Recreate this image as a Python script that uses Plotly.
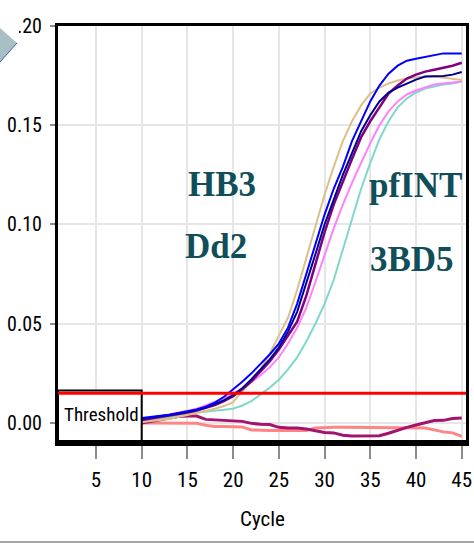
import plotly.graph_objects as go

cycles = list(range(10, 46))

blue = [0.0025,0.0030,0.0035,0.0042,0.0050,0.0058,0.0068,0.0082,0.0102,0.0132,0.0168,0.0208,0.0250,0.0295,0.0345,0.0400,0.0480,0.0600,0.0750,0.0910,0.1050,0.1180,0.1290,0.1420,0.1520,0.1620,0.1700,0.1760,0.1800,0.1825,0.1835,0.1845,0.1855,0.1862,0.1862,0.1862]
tan = [0.0005,0.0010,0.0015,0.0020,0.0030,0.0040,0.0050,0.0060,0.0072,0.0085,0.0105,0.0160,0.0210,0.0270,0.0350,0.0440,0.0530,0.0670,0.0830,0.1000,0.1150,0.1290,0.1420,0.1520,0.1600,0.1660,0.1690,0.1710,0.1725,0.1735,0.1740,0.1745,0.1745,0.1740,0.1735,0.1728]
navy = [0.0020,0.0028,0.0034,0.0040,0.0047,0.0055,0.0065,0.0078,0.0095,0.0115,0.0140,0.0175,0.0220,0.0270,0.0320,0.0380,0.0460,0.0560,0.0700,0.0850,0.1000,0.1130,0.1250,0.1360,0.1470,0.1550,0.1620,0.1665,0.1690,0.1710,0.1730,0.1745,0.1748,0.1748,0.1755,0.1768]
purple = [0.0015,0.0022,0.0030,0.0037,0.0044,0.0052,0.0062,0.0075,0.0090,0.0110,0.0135,0.0170,0.0210,0.0260,0.0310,0.0370,0.0440,0.0510,0.0640,0.0800,0.0960,0.1100,0.1220,0.1330,0.1440,0.1520,0.1590,0.1660,0.1700,0.1735,0.1755,0.1770,0.1780,0.1790,0.1800,0.1815]
violet = [0.0015,0.0025,0.0035,0.0043,0.0052,0.0060,0.0072,0.0088,0.0105,0.0125,0.0148,0.0175,0.0205,0.0240,0.0280,0.0330,0.0400,0.0480,0.0580,0.0710,0.0850,0.0980,0.1100,0.1210,0.1310,0.1410,0.1500,0.1570,0.1620,0.1655,0.1675,0.1690,0.1705,0.1710,0.1715,0.1720]
turquoise = [0.0005,0.0012,0.0020,0.0028,0.0035,0.0048,0.0052,0.0058,0.0062,0.0066,0.0072,0.0088,0.0110,0.0145,0.0178,0.0218,0.0270,0.0330,0.0410,0.0500,0.0600,0.0720,0.0870,0.1030,0.1180,0.1310,0.1430,0.1520,0.1590,0.1635,0.1665,0.1685,0.1695,0.1705,0.1710,0.1720]
neg_magenta = [0.0,0.0008,0.0015,0.0025,0.0033,0.0035,0.0035,0.0018,0.0015,0.0015,0.0012,0.0008,-0.0002,-0.0007,-0.0008,-0.0022,-0.0025,-0.0025,-0.0030,-0.0038,-0.0048,-0.0050,-0.0062,-0.0066,-0.0066,-0.0066,-0.0064,-0.0052,-0.0036,-0.0022,-0.0010,0.0002,0.0012,0.0013,0.0022,0.0025]
neg_salmon = [0.0,0.0,0.0,0.0,0.0,0.0,-0.0002,-0.0012,-0.0018,-0.0018,-0.0018,-0.0020,-0.0035,-0.0038,-0.0038,-0.0038,-0.0038,-0.0038,-0.0038,-0.0025,-0.0022,-0.0022,-0.0022,-0.0022,-0.0022,-0.0022,-0.0022,-0.0022,-0.0022,-0.0022,-0.0022,-0.0025,-0.0035,-0.0045,-0.0050,-0.0068]

threshold = 0.015
x_ticks = [5, 10, 15, 20, 25, 30, 35, 40, 45]
y_ticks = [0.00, 0.05, 0.10, 0.15, 0.20]
x_range = [0.845, 45.47]
y_range = [-0.0101, 0.2]
sample_labels = ["HB3", "Dd2", "pfINT", "3BD5"]

NARROW = "Liberation Sans Narrow, Arial Narrow, Roboto Condensed, DejaVu Sans Condensed, sans-serif"
SERIF = "Liberation Serif, Times New Roman, serif"

fig = go.Figure()
series = [
    (neg_salmon, "#ff8585", 3),
    (neg_magenta, "#a3146f", 3),
    (turquoise, "#80d8ca", 2),
    (violet, "#ff80ff", 2),
    (tan, "#dcc08a", 2),
    (purple, "#800080", 2.5),
    (navy, "#00008f", 2),
    (blue, "#0000ff", 2),
]
for vals, col, w in series:
    fig.add_trace(go.Scatter(x=cycles, y=vals, mode="lines",
                             line=dict(color=col, width=w), showlegend=False,
                             hoverinfo="skip"))

W, H = 474, 543
L, R, T, B = 58, 8, 26, 100
pw, ph = W - L - R, H - T - B

def px2paper(px, py):
    return (px - L) / pw, (H - B - py) / ph

shapes = []
shapes.append(dict(type="rect", xref="x", yref="y", x0=x_range[0], x1=10,
                   y0=y_range[0], y1=0.0163, fillcolor="white",
                   line=dict(color="black", width=2), layer="above"))
shapes.append(dict(type="line", xref="paper", yref="y", x0=0, x1=1,
                   y0=threshold, y1=threshold,
                   line=dict(color="#ff0000", width=3), layer="above"))
shapes.append(dict(type="line", xref="paper", yref="paper", x0=-0.004, x1=1.004,
                   y0=0, y1=0, line=dict(color="black", width=6), layer="above"))
a = px2paper(0, 0); b = px2paper(19, 40)
shapes.append(dict(type="rect", xref="paper", yref="paper", x0=a[0], x1=b[0],
                   y0=b[1], y1=a[1], fillcolor="white", line=dict(width=0),
                   layer="above"))
p1 = px2paper(0, 28); p2 = px2paper(17, 43); p3 = px2paper(0, 62)
shapes.append(dict(type="path", xref="paper", yref="paper",
                   path=f"M {p1[0]} {p1[1]} L {p2[0]} {p2[1]} L {p3[0]} {p3[1]} Z",
                   fillcolor="#a9bfc3", line=dict(width=0), layer="above"))
shapes.append(dict(type="line", xref="paper", yref="paper", x0=p2[0], y0=p2[1],
                   x1=p3[0], y1=p3[1], line=dict(color="#3b5fc0", width=1),
                   layer="above"))
g0 = px2paper(0, 542); g1 = px2paper(474, 542)
shapes.append(dict(type="line", xref="paper", yref="paper", x0=g0[0], x1=g1[0],
                   y0=g0[1], y1=g1[1], line=dict(color="#a6a6a6", width=2),
                   layer="above"))

annotations = [
    dict(x=5.55, y=0.0045, xref="x", yref="y", text="Threshold", showarrow=False,
         xanchor="center", yanchor="middle",
         font=dict(family=NARROW, size=19, color="black")),
    dict(x=0.5, y=(H - B - 519) / ph, xref="paper", yref="paper", text="Cycle",
         showarrow=False, xanchor="center", yanchor="middle",
         font=dict(family=NARROW, size=21, color="black")),
]
label_pos = [(18.78, 0.1199), (18.13, 0.0887), (40.0, 0.1194), (39.56, 0.0824)]
for txt, (cx, cy) in zip(sample_labels, label_pos):
    annotations.append(dict(x=cx, y=cy, xref="x", yref="y", text=f"<b>{txt}</b>",
                            showarrow=False, xanchor="center", yanchor="middle",
                            font=dict(family=SERIF, size=35, color="#104e5a")))

fig.update_layout(
    width=W, height=H,
    margin=dict(l=L, r=R, t=T, b=B, autoexpand=False),
    paper_bgcolor="white", plot_bgcolor="white",
    shapes=shapes, annotations=annotations,
    xaxis=dict(range=x_range, tickvals=x_ticks, ticktext=[str(v) for v in x_ticks],
               automargin=False,
               showgrid=True, gridcolor="#e6e6e6", gridwidth=2, zeroline=False,
               showline=True, linecolor="black", linewidth=3, mirror=True,
               ticks="outside", ticklen=13, tickwidth=2, tickcolor="#8c8c8c",
               ticklabelstandoff=3,
               tickfont=dict(family=NARROW, size=21, color="black")),
    yaxis=dict(range=y_range, tickvals=y_ticks, ticktext=[f"{v:.2f}" for v in y_ticks],
               automargin=False,
               showgrid=True, gridcolor="#e6e6e6", gridwidth=2, zeroline=False,
               showline=True, linecolor="black", linewidth=3, mirror=True,
               ticks="outside", ticklen=5, tickwidth=2, tickcolor="#8c8c8c",
               ticklabelstandoff=4,
               tickfont=dict(family=NARROW, size=20, color="black")),
)

fig.write_html("out.html", config={"displayModeBar": False},
               post_script="document.body.style.margin='0';")
